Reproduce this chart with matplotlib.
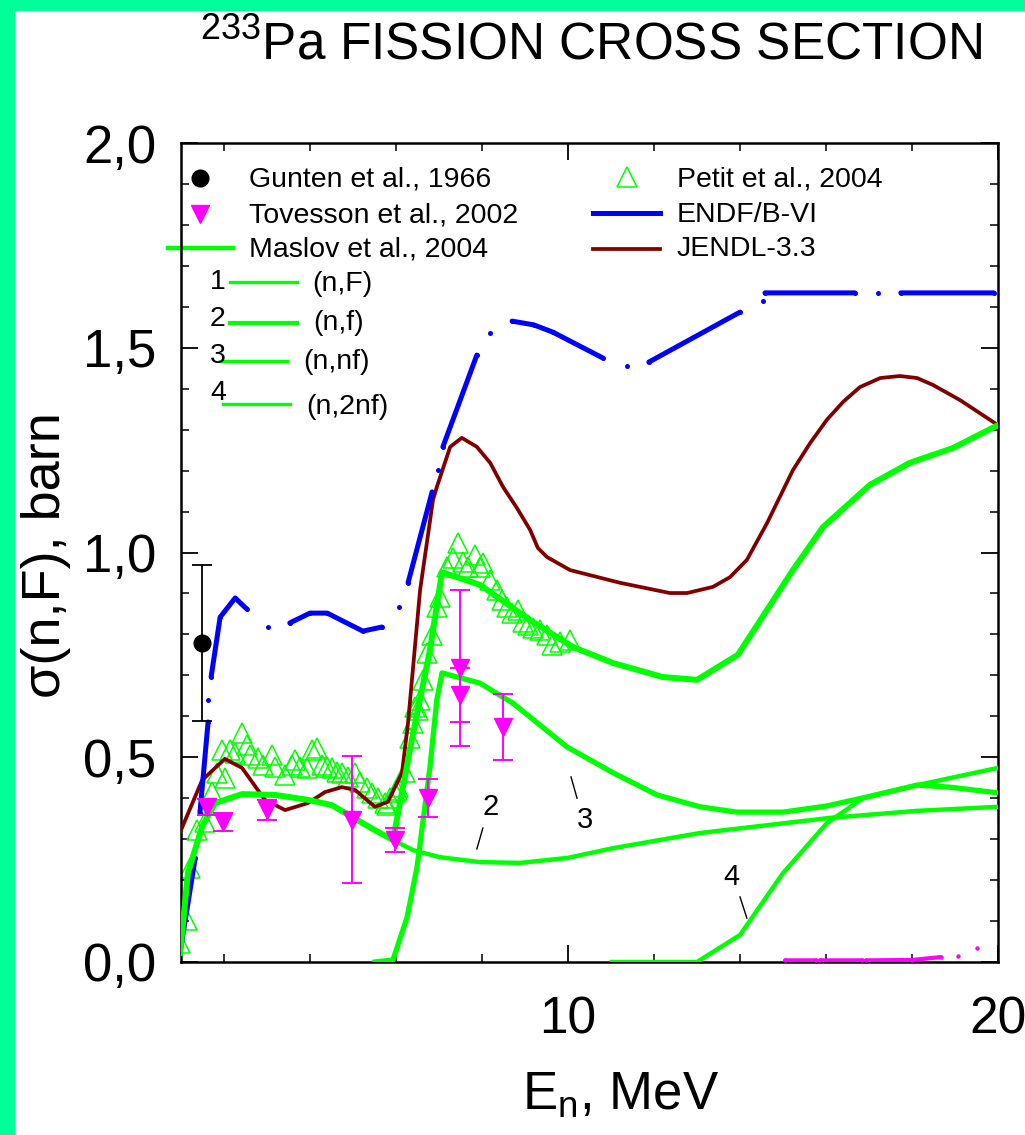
import numpy as np
import matplotlib
matplotlib.use("Agg")
import matplotlib.pyplot as plt
from matplotlib.patches import Rectangle
from matplotlib.lines import Line2D
from matplotlib.ticker import FixedLocator, FuncFormatter

plt.rcParams['font.family'] = ['Liberation Sans', 'DejaVu Sans']
plt.rcParams['mathtext.fontset'] = 'custom'
plt.rcParams['mathtext.rm'] = 'Liberation Sans'
plt.rcParams['mathtext.it'] = 'Liberation Sans:italic'

# ---------------- data ----------------
# Maslov et al., 2004 components
nF_E = [0.98, 1.16, 1.49, 1.79, 2.42, 3.19, 3.95, 4.51, 4.98, 5.51, 5.93, 6.40, 6.79, 7.07,
        7.95, 9.12, 10.12, 11.05, 12.2, 13.0, 13.95, 15.23, 15.93, 17.02, 17.95, 18.95, 20.0]
nF_s = [0.022, 0.217, 0.33, 0.388, 0.41, 0.408, 0.396, 0.383, 0.354, 0.322, 0.298, 0.559, 0.762, 0.952,
        0.921, 0.835, 0.769, 0.730, 0.696, 0.689, 0.75, 0.957, 1.062, 1.165, 1.219, 1.255, 1.311]

nf_E = [0.98, 1.16, 1.49, 1.79, 2.42, 3.19, 3.95, 4.51, 4.98, 5.51, 5.93, 6.40, 7.02, 7.95, 8.88,
        9.98, 11.05, 12.14, 13.07, 16.1, 18.1, 20.0]
nf_s = [0.022, 0.217, 0.33, 0.388, 0.41, 0.408, 0.396, 0.383, 0.354, 0.322, 0.298, 0.273, 0.256, 0.244, 0.242,
        0.254, 0.278, 0.298, 0.315, 0.352, 0.369, 0.379]

nnf_E = [5.51, 5.93, 6.26, 6.49, 6.79, 6.95, 7.07, 7.95, 8.72, 9.98, 11.05, 12.07, 13.07, 13.93,
         15.0, 16.02, 16.95, 18.12, 18.88, 20.0]
nnf_s = [0.0, 0.005, 0.11, 0.232, 0.476, 0.64, 0.706, 0.681, 0.632, 0.525, 0.462, 0.408, 0.379, 0.366,
         0.366, 0.381, 0.403, 0.432, 0.427, 0.413]

n2nf_E = [11.02, 13.0, 14.0, 15.0, 16.02, 16.86, 18.12, 20.0]
n2nf_s = [0.0, 0.0, 0.066, 0.217, 0.339, 0.40, 0.432, 0.474]

# JENDL-3.3
jendl_E = [0.98, 1.49, 2.02, 2.42, 2.95, 3.42, 3.95, 4.35, 4.74, 5.05, 5.51, 5.81, 6.14, 6.28, 6.56,
           6.86, 6.95, 7.26, 7.53, 7.88, 8.19, 8.49, 8.81, 9.12, 9.30, 9.51, 10.05, 11.21, 12.37, 12.77,
           13.37, 13.77, 14.16, 14.63, 15.23, 15.63, 16.02, 16.4, 16.79, 17.26, 17.72, 18.12, 18.49,
           19.12, 20.0]
jendl_s = [0.317, 0.444, 0.496, 0.474, 0.396, 0.371, 0.388, 0.415, 0.427, 0.42, 0.379, 0.391, 0.462, 0.584, 0.908,
           1.128, 1.16, 1.258, 1.28, 1.258, 1.219, 1.16, 1.109, 1.055, 1.011, 0.989, 0.957, 0.926, 0.901, 0.901,
           0.916, 0.940, 0.982, 1.072, 1.201, 1.267, 1.324, 1.368, 1.404, 1.426, 1.431, 1.426, 1.409,
           1.372, 1.311]

# ENDF/B-VI (plotted with gaps, as in the original; NaN = gap)
endf_E = [0.98, 1.33, np.nan, 1.40, np.nan, 1.44, 1.63, np.nan, 1.63, np.nan,
          1.70, 1.91, 2.26, 2.53, np.nan, 3.02, np.nan,
          3.53, 4.0, 4.40, 5.23, 5.67, np.nan, 6.07, np.nan, 6.28, 6.84, np.nan, 6.98, np.nan,
          7.09, 7.88, np.nan, 8.19, np.nan, 8.70, 9.20, 9.65, 10.81, np.nan, 11.37, np.nan,
          11.88, 14.0, np.nan, 14.53, np.nan, 14.58, 16.67, np.nan, 17.2, np.nan, 17.74, 19.9]
endf_s = [0.024, 0.254, np.nan, 0.305, np.nan, 0.364, 0.586, np.nan, 0.64, np.nan,
          0.696, 0.842, 0.889, 0.862, np.nan, 0.818, np.nan,
          0.828, 0.852, 0.852, 0.808, 0.818, np.nan, 0.867, np.nan, 0.926, 1.148, np.nan, 1.201, np.nan,
          1.258, 1.482, np.nan, 1.536, np.nan, 1.565, 1.556, 1.538, 1.475, np.nan, 1.455, np.nan,
          1.465, 1.587, np.nan, 1.614, np.nan, 1.634, 1.634, np.nan, 1.634, np.nan, 1.634, 1.634]

# magenta near-zero trace at high energy
mag_E = [15.05, 15.77, np.nan, 15.86, 16.84, np.nan, 16.93, 18.0, 18.67, np.nan, 19.07, np.nan, 19.51]
mag_s = [0.004, 0.004, np.nan, 0.004, 0.004, np.nan, 0.004, 0.005, 0.012, np.nan, 0.015, np.nan, 0.034]

# Gunten et al., 1966
gunten_E = [1.49]
gunten_s = [0.779]
gunten_err = [0.19]

# Tovesson et al., 2002
tov_E = [1.60, 1.98, 3.0, 4.98, 5.98, 6.74, 7.49, 7.49, 8.49]
tov_s = [0.379, 0.342, 0.371, 0.347, 0.298, 0.40, 0.718, 0.652, 0.574]
tov_err = [0.02, 0.022, 0.025, 0.155, 0.029, 0.047, 0.19, 0.066, 0.08]

# Petit et al., 2004
petit_E = [0.98, 1.14, 1.21, 1.37, 1.56, 1.72, 1.84, 2.02, 1.95, 2.14, 2.26, 2.42, 2.53, 2.60, 2.79,
           2.91, 3.12, 3.19, 3.42, 3.58, 3.65, 3.77, 3.93, 4.05, 4.16, 4.28, 4.40, 4.51, 4.63, 4.74,
           4.88, 5.05, 5.16, 5.33, 5.44, 5.58, 5.74, 5.79, 5.86, 5.98, 6.02, 6.05, 6.21, 6.33, 6.40,
           6.44, 6.51, 6.56, 6.63, 6.72, 6.84, 6.95, 7.02, 7.19, 7.33, 7.44, 7.56, 7.67, 7.84, 7.95,
           8.02, 8.19, 8.35, 8.47, 8.58, 8.70, 8.84, 8.95, 9.07, 9.19, 9.35, 9.51, 9.63, 9.81, 10.05]
petit_s = [0.046, 0.103, 0.23, 0.322, 0.342, 0.415, 0.461, 0.449, 0.518, 0.518, 0.51, 0.559, 0.53, 0.505, 0.498,
           0.481, 0.505, 0.476, 0.457, 0.481, 0.493, 0.476, 0.474, 0.518, 0.523, 0.481, 0.476, 0.474, 0.464, 0.461,
           0.452, 0.461, 0.44, 0.425, 0.413, 0.40, 0.388, 0.383, 0.40, 0.415, 0.42, 0.427, 0.464, 0.547, 0.584,
           0.623, 0.615, 0.64, 0.689, 0.754, 0.798, 0.867, 0.891, 0.965, 0.987, 1.023, 0.977, 0.965, 0.994, 0.965,
           0.974, 0.933, 0.908, 0.884, 0.867, 0.852, 0.86, 0.83, 0.823, 0.816, 0.811, 0.799, 0.774, 0.781, 0.786]

# curve-number annotations
curve_labels = ["2", "3", "4"]
label_xy = [(8.21, 0.379), (10.40, 0.347), (13.81, 0.208)]
label_lines = [((8.02, 0.327), (7.88, 0.276)), ((10.07, 0.452), (10.21, 0.40)), ((14.0, 0.159), (14.16, 0.107))]

y_ticks = [0.0, 0.5, 1.0, 1.5, 2.0]
x_ticks = [10, 20]

# ---------------- colours ----------------
GREEN = '#00ff00'
BLUE = '#0000ff'
DRED = '#800000'
MAG = '#ff00ff'

fig = plt.figure(figsize=(10.25, 11.35), dpi=100)
fig.patch.set_facecolor('white')
fig.patches.append(Rectangle((0, 0), 14/1025, 1, transform=fig.transFigure, color='#00ff99', zorder=0))
fig.patches.append(Rectangle((0, 1-10/1135), 1, 10/1135, transform=fig.transFigure, color='#00ff99', zorder=0))

ax = fig.add_axes([181/1025, 1-962/1135, 817/1025, 819/1135])
ax.set_xlim(1, 20)
ax.set_ylim(0, 2)

ax.plot(petit_E, petit_s, linestyle='none', marker='^', markersize=14, markerfacecolor='none',
        markeredgecolor=GREEN, markeredgewidth=1.1, zorder=2)
ax.plot(jendl_E, jendl_s, color=DRED, lw=2.7, zorder=3)
ax.plot(endf_E, endf_s, color=BLUE, lw=3.6, marker='o', markersize=3.6, markeredgewidth=0,
        solid_capstyle='round', solid_joinstyle='round', zorder=3)
ax.plot(mag_E, mag_s, color=MAG, lw=3.0, marker='o', markersize=3.2, markeredgewidth=0,
        solid_capstyle='round', zorder=3)
ax.plot(nf_E, nf_s, color=GREEN, lw=3.2, zorder=4)
ax.plot(nnf_E, nnf_s, color=GREEN, lw=3.8, zorder=4)
ax.plot(n2nf_E, n2nf_s, color=GREEN, lw=3.2, zorder=4)
ax.plot(nF_E, nF_s, color=GREEN, lw=4.3, zorder=4)
ax.errorbar(tov_E, tov_s, yerr=tov_err, fmt='v', color=MAG, markersize=13, elinewidth=1.4,
            capsize=7, capthick=1.4, zorder=5)
ax.errorbar(gunten_E, gunten_s, yerr=gunten_err, fmt='o', color='black', markersize=12, elinewidth=1.3,
            capsize=7, capthick=1.3, zorder=6)

for lab, (tx, ty), ((x1, y1), (x2, y2)) in zip(curve_labels, label_xy, label_lines):
    ax.text(tx, ty, lab, fontsize=21, ha='center', va='center', zorder=7)
    ax.plot([x1, x2], [y1, y2], color='black', lw=1.0, zorder=7)

# ---------------- legend (hand-placed, in axes fraction) ----------------
def ax_pt(px, py):
    return ((px - 181) / 817, (962 - py) / 819)

def leg_line(x0, x1, y, color, lw):
    a = ax_pt(x0, y); b = ax_pt(x1, y)
    ln = Line2D([a[0], b[0]], [a[1], b[1]], transform=ax.transAxes, color=color, lw=lw, clip_on=False)
    ax.add_line(ln)

def leg_text(x, y, s, fs=20.5):
    p = ax_pt(x, y)
    ax.text(p[0], p[1], s, transform=ax.transAxes, fontsize=fs, ha='left', va='center')

def leg_marker(x, y, **kw):
    p = ax_pt(x, y)
    ax.plot([p[0]], [p[1]], transform=ax.transAxes, linestyle='none', clip_on=False, **kw)

leg_marker(200, 178, marker='o', markersize=12, color='black')
leg_text(249, 179, 'Gunten et al., 1966')
leg_marker(200, 214, marker='v', markersize=13, color=MAG)
leg_text(249, 215, 'Tovesson et al., 2002')
leg_line(168, 233, 248, GREEN, 3.2)
leg_text(249, 250, 'Maslov et al., 2004')
for num, ny, ly, tx, tyy, txt, lx0, lx1, lw in [
        ('1', 282, 282, 312, 284, '(n,F)', 230, 297, 2.4),
        ('2', 319, 323, 313, 323, '(n,f)', 230, 297, 3.0),
        ('3', 356, 361, 303, 362, '(n,nf)', 220, 287, 2.4),
        ('4', 393, 404, 306, 407, '(n,2nf)', 223, 290, 2.4)]:
    leg_text(210, ny, num)
    leg_line(lx0, lx1, ly, GREEN, lw)
    leg_text(tx, tyy, txt)

leg_marker(627, 177, marker='^', markersize=14, markerfacecolor='none', markeredgecolor=GREEN,
           markeredgewidth=1.1)
leg_text(677, 179, 'Petit et al., 2004')
leg_line(593, 660, 213, BLUE, 3.6)
leg_text(677, 215, 'ENDF/B-VI')
leg_line(593, 660, 249, DRED, 2.7)
leg_text(677, 249, 'JENDL-3.3')

# ---------------- axes styling ----------------
for sp in ax.spines.values():
    sp.set_linewidth(1.8)
ax.xaxis.set_major_locator(FixedLocator(x_ticks))
ax.xaxis.set_minor_locator(FixedLocator([2, 4, 6, 8, 12, 14, 16, 18]))
ax.yaxis.set_major_locator(FixedLocator(y_ticks))
ax.yaxis.set_minor_locator(FixedLocator([v / 10 for v in range(21) if v % 5]))
ax.yaxis.set_major_formatter(FuncFormatter(lambda v, p: f"{v:.1f}".replace('.', ',')))
ax.tick_params(which='both', direction='in', top=True, right=True)
ax.tick_params(which='major', length=12, width=1.3)
ax.tick_params(which='minor', length=6, width=1.1)
ax.tick_params(axis='x', which='major', pad=24, labelsize=37)
ax.tick_params(axis='y', which='major', pad=18, labelsize=38)

fig.text(0.577, 0.960, r'$^{233}$Pa FISSION CROSS SECTION', fontsize=37,
         ha='center', va='center')
fig.text(0.605, 0.035, r'E$_{\rm n}$, MeV', fontsize=38, ha='center', va='center')
fig.text(0.045, 0.511, r'σ(n,F), barn', fontsize=39, rotation=90, ha='center', va='center')

fig.savefig('out.png', dpi=100)
